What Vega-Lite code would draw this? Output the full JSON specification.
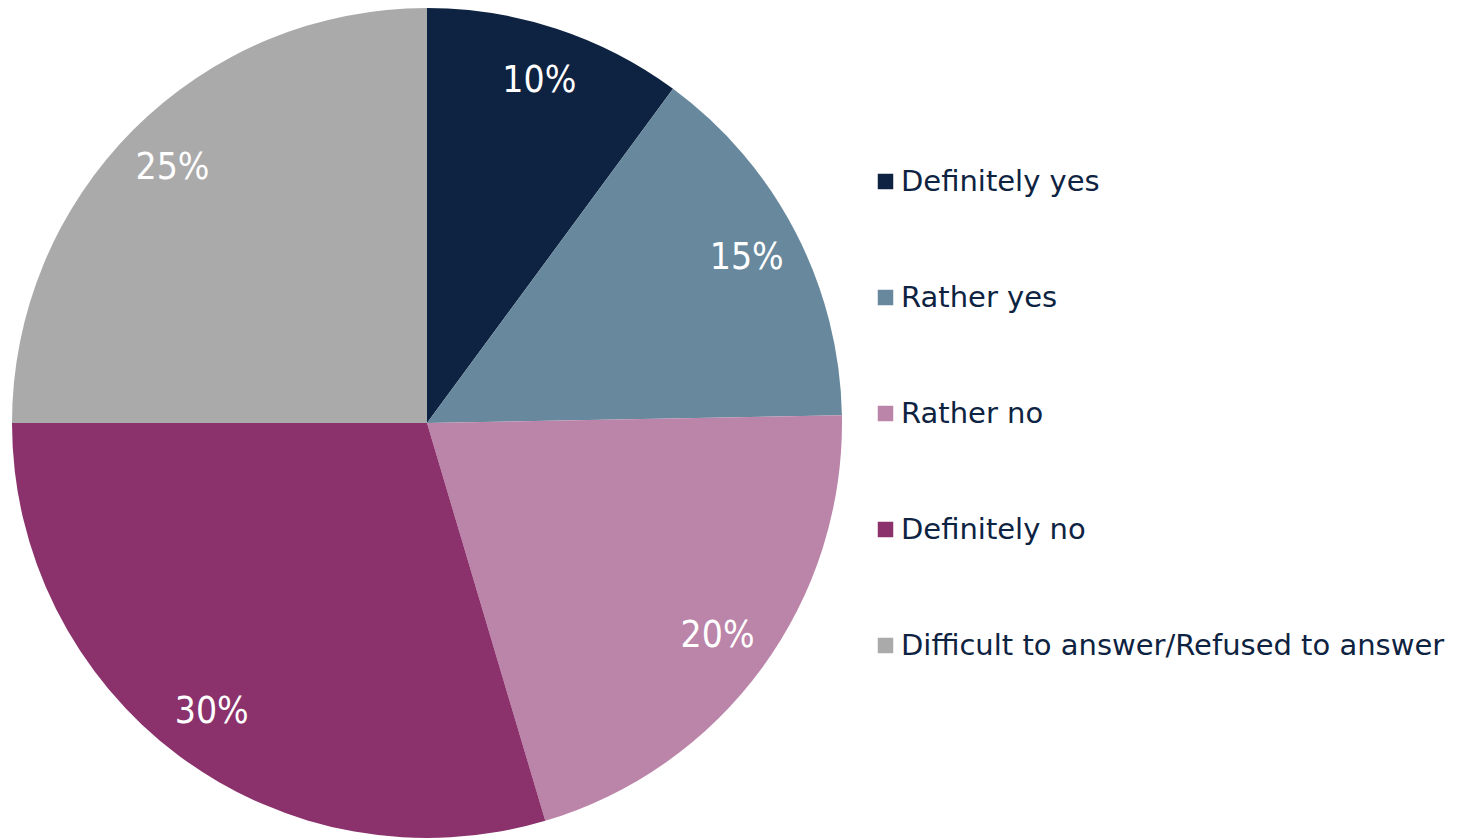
{
  "$schema": "https://vega.github.io/schema/vega-lite/v6.json",
  "width": 854,
  "height": 846,
  "padding": 0,
  "background": "white",
  "config": {"view": {"stroke": null}, "font": "DejaVu Sans"},
  "data": {"values": [
    {"answer": "Definitely yes", "share": 10.1, "label": "10%", "rank": 1},
    {"answer": "Rather yes", "share": 14.6, "label": "15%", "rank": 2},
    {"answer": "Rather no", "share": 20.7, "label": "20%", "rank": 3},
    {"answer": "Definitely no", "share": 29.6, "label": "30%", "rank": 4},
    {"answer": "Difficult to answer/Refused to answer", "share": 25.0, "label": "25%", "rank": 5}
  ]},
  "encoding": {
    "theta": {"field": "share", "type": "quantitative", "stack": true},
    "order": {"field": "rank", "type": "quantitative"}
  },
  "layer": [
    {
      "mark": {"type": "arc", "outerRadius": 415, "stroke": null},
      "encoding": {
        "color": {
          "field": "answer", "type": "nominal",
          "sort": ["Definitely yes", "Rather yes", "Rather no", "Definitely no", "Difficult to answer/Refused to answer"],
          "scale": {
            "domain": ["Definitely yes", "Rather yes", "Rather no", "Definitely no", "Difficult to answer/Refused to answer"],
            "range": ["#0E2341", "#67889D", "#BB84A9", "#8B316B", "#AAAAAB"]
          },
          "legend": {
            "title": null,
            "orient": "none",
            "legendX": 871,
            "legendY": 167,
            "padding": 0,
            "symbolType": "square",
            "symbolSize": 240,
            "symbolStrokeWidth": 0,
            "symbolOpacity": 1,
            "labelFontSize": 29,
            "labelColor": "#0E2341",
            "labelFont": "DejaVu Sans",
            "labelLimit": 700,
            "labelOffset": 1,
            "rowPadding": 86
          }
        }
      }
    },
    {
      "mark": {"type": "text", "radius": 360, "fontSize": 37, "color": "white", "font": "DejaVu Sans Condensed", "baseline": "middle", "align": "center"},
      "encoding": {"text": {"field": "label", "type": "nominal"}}
    }
  ]
}
